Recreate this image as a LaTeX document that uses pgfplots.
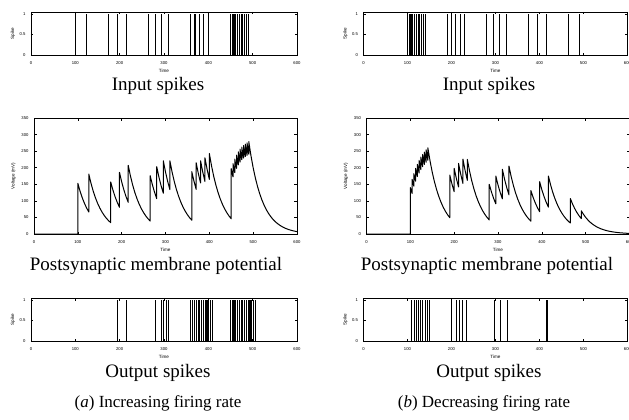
\documentclass[border=0pt]{standalone}
\usepackage{fontspec}
\setmainfont{Liberation Serif}
\newfontfamily\axfont{Liberation Sans}
\usepackage{pgfplots}
\pgfplotsset{compat=1.18}

\pgfplotsset{
  base/.style={
    scale only axis, anchor=south west,
    xmin=0, xmax=600, xtick={0,100,...,600},
    tick align=inside, xtick pos=both, ytick pos=both,
    major tick length=2.5pt,
    axis line style={line width=0.8pt},
    every tick/.style={black, line width=0.5pt},
    tick label style={font=\axfont\fontsize{4.2}{5}\selectfont},
    /pgf/number format/assume math mode=true,
    xlabel={Time},
    every axis x label/.style={at={([yshift=-15.5pt]axis description cs:0.5,0)}, anchor=center, font=\axfont\fontsize{4.6}{5}\selectfont},
    xticklabel style={yshift=-3pt},
    yticklabel style={xshift=-2pt},
  },
  raster/.style={base, width=#1, height=43pt, ymin=0, ymax=1.05, ytick={0,0.5,1}, ylabel={Spike},
     every axis y label/.style={at={([xshift=-18pt]axis description cs:0,0.5)}, anchor=center, rotate=90, font=\axfont\fontsize{4.6}{5}\selectfont}},
  memb/.style={base, width=#1, height=116pt, ymin=0, ymax=350, ytick={0,50,...,350}, ylabel={Voltage (mV)},
     every axis y label/.style={at={([xshift=-20.5pt]axis description cs:0,0.5)}, anchor=center, rotate=90, font=\axfont\fontsize{4.6}{5}\selectfont}},
  spk/.style={ycomb, black, line width=1.1pt},
  vm/.style={black, line width=1.0pt, line join=round},
}

\begin{document}
\begin{tikzpicture}
\useasboundingbox (0pt,-420pt) rectangle (629pt,0pt);

% ---------------- (a) increasing ----------------
\begin{axis}[raster=266pt, at={(31pt,-55pt)}]
\addplot[spk] coordinates {(100,1) (125,1) (175,1) (195,1) (215,1) (265,1) (280,1) (295,1) (310,1)
 (360,1) (370,1) (380,1) (390,1) (400,1)
 (450,1) (454,1) (458,1) (462,1) (466,1) (470,1) (474,1) (478,1) (482,1) (486,1) (490,1)};
\end{axis}

\begin{axis}[memb=263pt, at={(34pt,-234pt)}]
\addplot[vm] coordinates {
(0,0) (100,0) (100,153) (105,129.5) (110,109.6) (115,92.8) (120,78.6) (125,66.5)
(125,181) (130,153.2) (135,129.7) (140,109.8) (145,92.9) (150,78.7) (155,66.6) (160,56.4) (165,47.7) (170,40.4) (175,34.2)
(175,157) (180,132.9) (185,112.5) (190,95.2) (195,80.6)
(195,186) (200,157.4) (205,133.3) (210,112.8) (215,95.5)
(215,207) (220,175.2) (225,148.3) (230,125.5) (235,106.3) (240,90.0) (245,76.2) (250,64.5) (255,54.6) (260,46.2) (265,39.1)
(265,176) (270,149.0) (275,126.1) (280,106.7)
(280,203) (285,171.8) (290,145.5) (295,123.1)
(295,221) (300,187.1) (305,158.4) (310,134.0)
(310,221) (315,187.1) (320,158.4) (325,134.0) (330,113.5) (335,96.0) (340,81.3) (345,68.8) (350,58.2) (355,49.3) (360,41.7)
(360,188) (365,159.1) (370,134.7)
(370,215) (375,182.0) (380,154.0)
(380,221) (385,187.1) (390,158.4)
(390,230) (395,194.7) (400,164.8)
(400,243) (405,205.7) (410,174.1) (415,147.4) (420,124.8) (425,105.6) (430,89.4) (435,75.7) (440,64.1) (445,54.2) (450,45.9)
(450,197) (452,184.3) (454,172.4)
(454,212) (456,198.3) (458,185.5)
(458,226) (460,211.4) (462,197.8)
(462,238) (464,222.6) (466,208.3)
(466,248) (468,232.0) (470,217.0)
(470,256) (472,239.5) (474,224.1)
(474,262) (476,245.1) (478,229.3)
(478,267) (480,249.8) (482,233.7)
(482,271) (484,253.5) (486,237.2)
(486,275) (488,257.3) (490,240.7)
(490,279) (495,236.2) (500,199.9) (505,169.2) (510,143.2) (515,121.2) (520,102.6) (525,86.9) (530,73.5) (535,62.2) (540,52.7) (545,44.6) (550,37.8) (555,32.0) (560,27.1) (565,22.9) (570,19.4) (575,16.4) (580,13.9) (585,11.8) (590,10.0) (595,8.5) (600,7.2)
};
\end{axis}

\begin{axis}[raster=266pt, at={(31pt,-341pt)}]
\addplot[spk] coordinates {(196,1) (216,1) (280,1) (294,1) (299,1) (305,1) (311,1)
 (360,1) (365,1) (369,1) (373,1) (377,1) (381,1) (385,1) (389,1) (393,1) (397,1) (401,1) (405,1) (409,1)
 (450,1) (454,1) (458,1) (462,1) (466,1) (470,1) (474,1) (478,1) (482,1) (486,1) (490,1) (494,1) (498,1) (502,1) (506,1)};
\end{axis}

% ---------------- (b) decreasing ----------------
\begin{axis}[raster=264pt, at={(363.5pt,-55pt)}]
\addplot[spk] coordinates {(100,1) (104,1) (108,1) (112,1) (116,1) (120,1) (124,1) (128,1) (132,1) (136,1) (140,1)
 (190,1) (200,1) (210,1) (220,1) (230,1) (280,1) (295,1) (310,1) (325,1) (375,1) (395,1) (415,1) (465,1) (490,1)};
\end{axis}

\begin{axis}[memb=263pt, at={(366.5pt,-234pt)}]
\addplot[vm] coordinates {
(0,0) (100,0) (100,140) (102,131.0) (104,122.5)
(104,165) (106,154.4) (108,144.4)
(108,182) (110,170.3) (112,159.3)
(112,198) (114,185.2) (116,173.3)
(116,210) (118,196.5) (120,183.8)
(120,222) (122,207.7) (124,194.3)
(124,232) (126,217.0) (128,203.0)
(128,240) (130,224.5) (132,210.0)
(132,247) (134,231.1) (136,216.2)
(136,254) (138,237.6) (140,222.3)
(140,260) (145,220.1) (150,186.3) (155,157.7) (160,133.5) (165,113.0) (170,95.7) (175,81.0) (180,68.6) (185,58.1) (190,49.2)
(190,178) (195,150.7) (200,127.5)
(200,198) (205,167.6) (210,141.9)
(210,213) (215,180.3) (220,152.6)
(220,226) (225,191.3) (230,161.9)
(230,225) (235,190.5) (240,161.2) (245,136.5) (250,115.5) (255,97.8) (260,82.8) (265,70.1) (270,59.3) (275,50.2) (280,42.5)
(280,150) (285,127.0) (290,107.5) (295,91.0)
(295,175) (300,148.1) (305,125.4) (310,106.1)
(310,195) (315,165.1) (320,139.7) (325,118.3)
(325,205) (330,173.5) (335,146.9) (340,124.3) (345,105.3) (350,89.1) (355,75.4) (360,63.8) (365,54.0) (370,45.7) (375,38.7)
(375,131) (380,110.9) (385,93.9) (390,79.5) (395,67.3)
(395,158) (400,133.7) (405,113.2) (410,95.8) (415,81.1)
(415,175) (420,148.1) (425,125.4) (430,106.2) (435,89.9) (440,76.1) (445,64.4) (450,54.5) (455,46.1) (460,39.0) (465,33.1)
(465,107) (470,90.6) (475,76.7) (480,64.9) (485,54.9) (490,46.5)
(490,70) (495,59.3) (500,50.2) (505,42.5) (510,35.9) (515,30.4) (520,25.8) (525,21.8) (530,18.5) (535,15.6) (540,13.2) (545,11.2) (550,9.5) (555,8.0) (560,6.8) (565,5.8) (570,4.9) (575,4.1) (580,3.5) (585,3.0) (590,2.5) (595,2.1) (600,1.8)
};
\end{axis}

\begin{axis}[raster=264pt, at={(363.5pt,-341pt)}]
\addplot[spk] coordinates {(110,1) (115,1) (120,1) (125,1) (130,1) (135,1) (140,1) (145,1) (150,1)
 (200,1) (211,1) (219,1) (226,1) (234,1) (297,1) (311,1) (327,1) (417,1)};
\end{axis}

% ---------------- captions ----------------
\begin{scope}[every node/.style={font=\fontsize{19}{22}\selectfont, inner sep=0pt}]
\node at (158pt,-86pt) {Input spikes};
\node at (489pt,-86pt) {Input spikes};
\node at (156pt,-266pt) {Postsynaptic membrane potential};
\node at (487pt,-266pt) {Postsynaptic membrane potential};
\node at (158pt,-373pt) {Output spikes};
\node at (489pt,-373pt) {Output spikes};
\end{scope}
\begin{scope}[every node/.style={font=\fontsize{17}{20}\selectfont, inner sep=0pt}]
\node at (158pt,-403pt) {(\textit{a}) Increasing firing rate};
\node at (484pt,-403pt) {(\textit{b}) Decreasing firing rate};
\end{scope}
\end{tikzpicture}
\end{document}
